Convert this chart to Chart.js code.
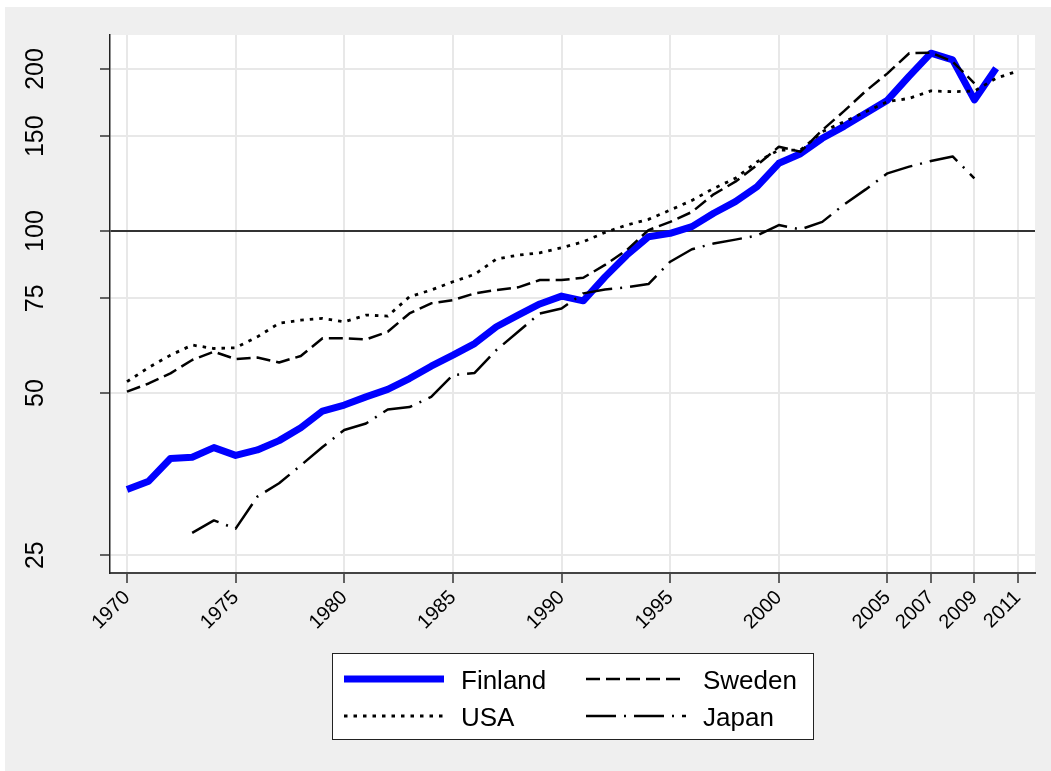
<!DOCTYPE html>
<html>
<head>
<meta charset="utf-8">
<script src="https://cdn.jsdelivr.net/npm/chart.js@4.4.1/dist/chart.umd.min.js"></script>
<style>
  body { margin: 0; background: #ffffff; }
  #wrap { width: 1051px; height: 771px; }
</style>
</head>
<body>
<div id="wrap"><canvas id="chart"></canvas></div>
<script>
// index values, 1970..2011 (null = no data)
const years = [1970,1971,1972,1973,1974,1975,1976,1977,1978,1979,1980,1981,1982,1983,1984,1985,1986,1987,1988,1989,1990,1991,1992,1993,1994,1995,1996,1997,1998,1999,2000,2001,2002,2003,2004,2005,2006,2007,2008,2009,2010,2011];

const finland = [33.1,34.3,37.8,38.0,39.6,38.3,39.2,40.8,43.1,46.3,47.5,49.2,50.8,53.2,56.1,58.8,61.8,66.4,69.8,73.2,75.7,74.2,82.2,90.2,97.6,99.0,101.9,107.9,113.4,120.9,133.6,139.2,148.7,156.5,165.5,175.0,194.0,214.0,208.0,175.2,200.6,null];
const sweden = [50.3,52.1,54.4,57.6,59.7,57.8,58.2,57.0,58.6,63.2,63.2,62.9,65.0,70.3,73.4,74.4,76.6,77.7,78.6,81.1,81.1,81.9,86.5,92.2,100.4,104.0,108.5,117.0,123.5,132.6,143.4,140.4,154.0,167.0,182.0,196.3,213.9,214.5,206.4,188.1,null,null];
const usa = [52.5,55.8,58.8,61.4,60.5,60.7,63.6,67.4,68.3,68.8,67.8,69.8,69.5,75.5,77.7,80.5,83.1,88.7,90.2,91.1,93.1,95.5,99.4,102.6,105.1,109.4,114.0,120.0,125.3,134.5,141.4,141.4,152.9,159.6,166.6,173.9,176.4,182.1,181.5,182.0,192.2,198.3];
const japan = [null,null,null,27.5,29.0,28.0,32.1,34.0,36.7,39.7,42.7,43.9,46.6,47.1,49.2,54.0,54.5,60.1,65.0,70.3,71.8,76.6,77.9,78.6,79.7,87.7,92.5,94.8,96.4,98.1,102.6,100.7,104.0,112.0,119.5,128.0,131.7,134.9,137.6,125.3,null,null];

const xTicks = [1970,1975,1980,1985,1990,1995,2000,2005,2007,2009,2011];
const yTicks = [25,50,75,100,150,200];

const FONT = "'Liberation Sans', Arial, Helvetica, sans-serif";
const GRID = '#e8e8e8';

function pts(arr) {
    return years.map((yr, i) => ({ x: yr, y: arr[i] }));
}

const bgPlugin = {
    id: 'bg',
    beforeDraw(chart) {
        const ctx = chart.ctx, a = chart.chartArea;
        ctx.save();
        ctx.fillStyle = '#efefef';
        ctx.fillRect(5, 7, chart.width - 5, chart.height - 7);
        ctx.fillStyle = '#ffffff';
        ctx.fillRect(a.left, a.top, a.right - a.left, a.bottom - a.top);
        ctx.restore();
    }
};

const yLabelPlugin = {
    id: 'ylabels',
    afterDraw(chart) {
        const ctx = chart.ctx, ys = chart.scales.y;
        ctx.save();
        ctx.fillStyle = '#000';
        ctx.font = '25px ' + FONT;
        ctx.textAlign = 'center';
        ctx.textBaseline = 'alphabetic';
        yTicks.forEach(v => {
            const py = ys.getPixelForValue(v);
            ctx.save();
            ctx.translate(43, py);
            ctx.rotate(-Math.PI / 2);
            ctx.fillText(String(v), 0, 0);
            ctx.restore();
        });
        ctx.restore();
    }
};

const legendPlugin = {
    id: 'boxlegend',
    afterDraw(chart) {
        const ctx = chart.ctx;
        const ds = chart.data.datasets;
        ctx.save();
        ctx.fillStyle = '#ffffff';
        ctx.fillRect(332, 653, 481, 86);
        ctx.strokeStyle = '#222';
        ctx.lineWidth = 1;
        ctx.strokeRect(332.5, 653.5, 481, 86);
        const slots = [
            { i: 0, x: 344, y: 679 },
            { i: 1, x: 586, y: 679 },
            { i: 2, x: 344, y: 716 },
            { i: 3, x: 586, y: 716 }
        ];
        slots.forEach(s => {
            const d = ds[s.i];
            ctx.beginPath();
            ctx.setLineDash(d.borderDash || []);
            ctx.lineWidth = d.borderWidth;
            ctx.strokeStyle = d.borderColor;
            ctx.moveTo(s.x, s.y);
            ctx.lineTo(s.x + 100, s.y);
            ctx.stroke();
            ctx.setLineDash([]);
            ctx.fillStyle = '#000';
            ctx.font = '26px ' + FONT;
            ctx.textAlign = 'left';
            ctx.textBaseline = 'alphabetic';
            ctx.fillText(d.label, s.x + 117, s.y + 10);
        });
        ctx.restore();
    }
};

new Chart(document.getElementById('chart'), {
    type: 'line',
    data: {
        datasets: [
            { label: 'Finland', data: pts(finland), borderColor: '#0000ff', borderWidth: 7, order: 4 },
            { label: 'Sweden', data: pts(sweden), borderColor: '#000', borderWidth: 2.5, borderDash: [14, 6], order: 3 },
            { label: 'USA', data: pts(usa), borderColor: '#000', borderWidth: 2.8, borderDash: [3.5, 6], order: 2 },
            { label: 'Japan', data: pts(japan), borderColor: '#000', borderWidth: 2.5, borderDash: [30, 8, 2, 8], order: 1 }
        ]
    },
    options: {
        responsive: true,
        maintainAspectRatio: false,
        animation: false,
        layout: { padding: { left: 0, top: 35, right: 16, bottom: 0 } },
        elements: {
            point: { radius: 0 },
            line: { tension: 0, fill: false, borderCapStyle: 'butt', borderJoinStyle: 'round' }
        },
        plugins: { legend: { display: false }, tooltip: { enabled: false } },
        scales: {
            x: {
                type: 'linear',
                min: 1969.218,
                max: 2011.79,
                afterBuildTicks: s => { s.ticks = xTicks.map(v => ({ value: v })); },
                afterFit: s => { s.height = 198; },
                ticks: {
                    autoSkip: false,
                    minRotation: 45,
                    maxRotation: 45,
                    padding: 3,
                    color: '#000',
                    font: { family: FONT, size: 20 },
                    callback: v => String(v)
                },
                grid: { color: GRID, lineWidth: 2, tickColor: '#333', tickWidth: 1.5, tickLength: 10 },
                border: { display: true, color: '#444', width: 2 }
            },
            y: {
                type: 'logarithmic',
                min: 23.16,
                max: 231.3,
                afterBuildTicks: s => { s.ticks = yTicks.map(v => ({ value: v })); },
                afterFit: s => { s.width = 110; },
                ticks: { display: false },
                grid: {
                    color: c => (c.tick && c.tick.value === 100 ? '#333' : GRID),
                    lineWidth: 2,
                    tickColor: '#333',
                    tickWidth: 1.5,
                    tickLength: 10
                },
                border: { display: true, color: '#222', width: 1.5 }
            }
        }
    },
    plugins: [bgPlugin, yLabelPlugin, legendPlugin]
});
</script>
</body>
</html>
